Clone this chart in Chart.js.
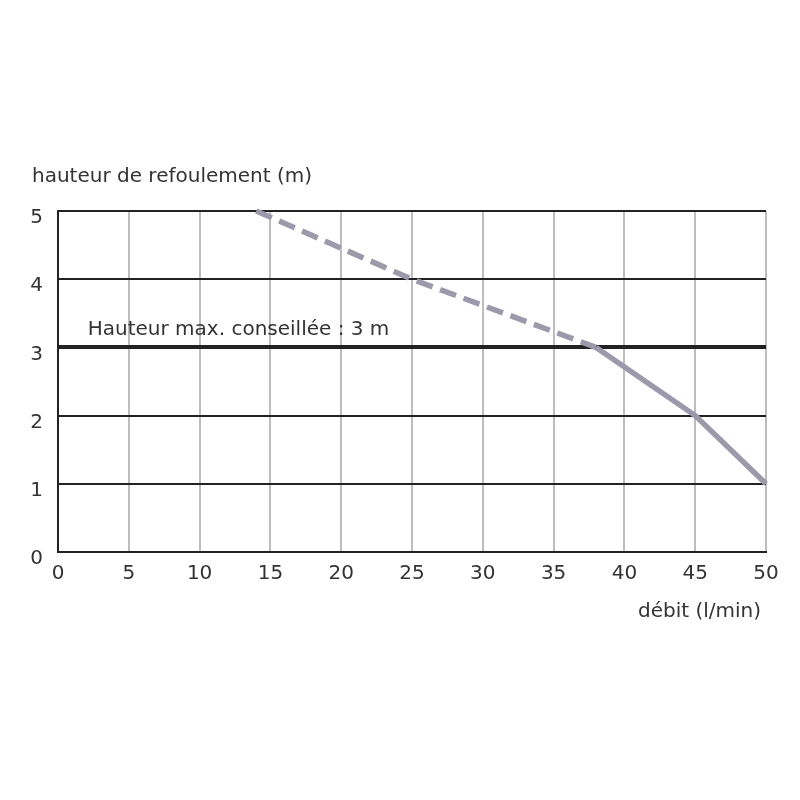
<!DOCTYPE html>
<html>
<head>
<meta charset="utf-8">
<script src="https://cdn.jsdelivr.net/npm/chart.js@4"></script>
<style>
  html, body { margin: 0; padding: 0; background: #fff; }
  #wrap { width: 800px; height: 800px; }
</style>
</head>
<body>
<div id="wrap"><canvas id="pumpChart" width="800" height="800"></canvas></div>
<script>
// Pump curve: flow (l/min) vs head (m)
const flowValues = [14, 25, 38, 45, 50];
const headValues = [5, 4, 3, 2, 1];
const dashedUntil = 2; // segments up to this point index are dashed

const xTitle = 'débit (l/min)';
const yTitle = 'hauteur de refoulement (m)';
const maxHeadLabel = 'Hauteur max. conseillée : 3 m';
const maxHead = 3;

const textColor = '#333';
const fontFamily = '"DejaVu Sans", sans-serif';

// Draw the free-standing texts (axis titles and recommended max height)
const textPlugin = {
    id: 'textPlugin',
    afterDraw(chart) {
        const { ctx, chartArea, scales } = chart;
        ctx.save();
        ctx.fillStyle = textColor;
        ctx.font = '20px ' + fontFamily;
        ctx.textBaseline = 'middle';

        ctx.textAlign = 'left';
        ctx.fillText(yTitle, 32, 177);

        ctx.textAlign = 'right';
        ctx.fillText(xTitle, chartArea.right - 5, 612);

        ctx.textAlign = 'left';
        ctx.fillText(maxHeadLabel, scales.x.getPixelForValue(2.1), scales.y.getPixelForValue(maxHead) - 18);
        ctx.restore();
    }
};

const points = flowValues.map((x, i) => ({ x: x, y: headValues[i] }));

new Chart(document.getElementById('pumpChart').getContext('2d'), {
    type: 'line',
    data: {
        datasets: [{
            data: points,
            borderColor: '#9c9aaa',
            borderWidth: 5.5,
            pointRadius: 0,
            clip: false,
            segment: {
                borderDash: ctx => ctx.p1DataIndex <= dashedUntil ? [17, 8] : undefined
            }
        }]
    },
    options: {
        responsive: false,
        animation: false,
        layout: {
            padding: { left: 0, top: 211, right: 34, bottom: 0 }
        },
        scales: {
            x: {
                type: 'linear',
                min: 0,
                max: 50,
                afterFit: scale => { scale.height = 248; },
                ticks: {
                    stepSize: 5,
                    padding: 10,
                    color: textColor,
                    font: { family: fontFamily, size: 20 }
                },
                grid: {
                    color: '#bdbdbd',
                    lineWidth: 2,
                    drawTicks: false
                },
                border: { color: '#222', width: 2 }
            },
            y: {
                min: 0,
                max: 5,
                afterFit: scale => { scale.width = 58; },
                ticks: {
                    stepSize: 1,
                    padding: 15,
                    labelOffset: 7,
                    color: textColor,
                    font: { family: fontFamily, size: 20 }
                },
                grid: {
                    color: '#222',
                    lineWidth: ctx => ctx.tick && ctx.tick.value === maxHead ? 4 : 2,
                    drawTicks: false
                },
                border: { color: '#222', width: 2 }
            }
        },
        plugins: {
            legend: { display: false },
            tooltip: { enabled: false }
        }
    },
    plugins: [textPlugin]
});
</script>
</body>
</html>
